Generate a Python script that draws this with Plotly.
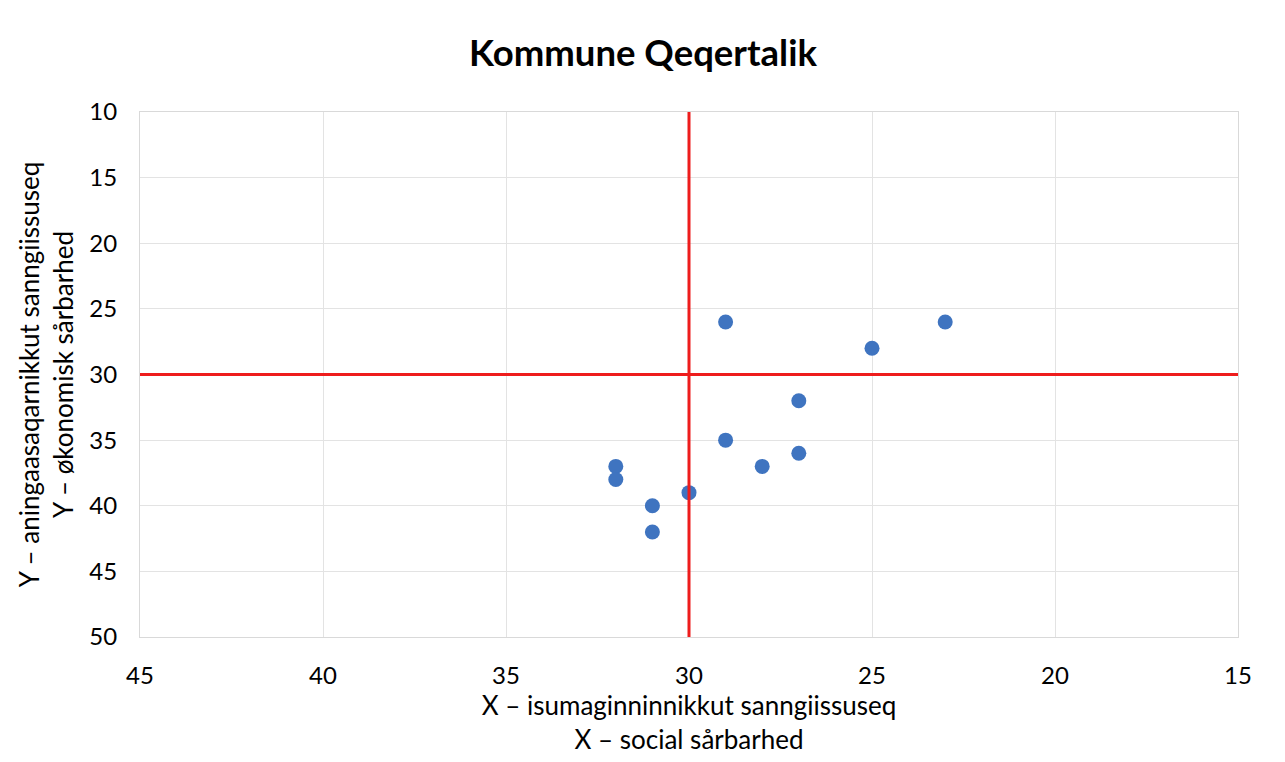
import plotly.graph_objects as go

x_social = [29, 23, 25, 27, 29, 27, 28, 32, 32, 30, 31, 31]
y_econ = [26, 26, 28, 32, 35, 36, 37, 37, 38, 39, 40, 42]
x_threshold = 30
y_threshold = 30
x_ticks = [45, 40, 35, 30, 25, 20, 15]
y_ticks = [10, 15, 20, 25, 30, 35, 40, 45, 50]

FONT = "Lato, 'Open Sans', sans-serif"

fig = go.Figure()
fig.add_trace(go.Scatter(
    x=x_social, y=y_econ, mode="markers",
    marker=dict(size=15, color="#3f74c0"),
    showlegend=False,
))

fig.add_shape(type="line", xref="x", yref="paper", x0=x_threshold, x1=x_threshold, y0=0, y1=1,
              line=dict(color="#ee1c1c", width=3))
fig.add_shape(type="line", xref="paper", yref="y", x0=0, x1=1, y0=y_threshold, y1=y_threshold,
              line=dict(color="#ee1c1c", width=3))

fig.update_layout(
    width=1270, height=750,
    margin=dict(l=132, r=40, t=104, b=121),
    paper_bgcolor="white", plot_bgcolor="white",
    font=dict(family=FONT, color="black"),
    title=dict(text="<b>Kommune Qeqertalik</b>", x=0.5, xanchor="center", y=0.94, yanchor="middle",
               font=dict(size=36.5, family=FONT, color="black")),
)
fig.update_xaxes(
    range=[45, 15], tickvals=x_ticks, ticktext=[str(v) for v in x_ticks],
    showgrid=True, gridcolor="#e3e3e3", gridwidth=1,
    showline=True, linecolor="#d9d9d9", mirror=True, zeroline=False,
    tickfont=dict(size=24), ticks="", ticklabelstandoff=17,
    title=dict(text="X – isumaginninnikkut sanngiissuseq<br>X – social sårbarhed",
               font=dict(size=26), standoff=2),
)
fig.update_yaxes(
    range=[50, 10], tickvals=y_ticks, ticktext=[str(v) for v in y_ticks],
    showgrid=True, gridcolor="#e3e3e3", gridwidth=1,
    showline=True, linecolor="#d9d9d9", mirror=True, zeroline=False,
    tickfont=dict(size=24), ticks="", ticklabelstandoff=17,
    title=dict(text="Y – aningaasaqarnikkut sanngiissuseq<br>Y – økonomisk sårbarhed",
               font=dict(size=26), standoff=8),
)

fig.write_html("out.html")
